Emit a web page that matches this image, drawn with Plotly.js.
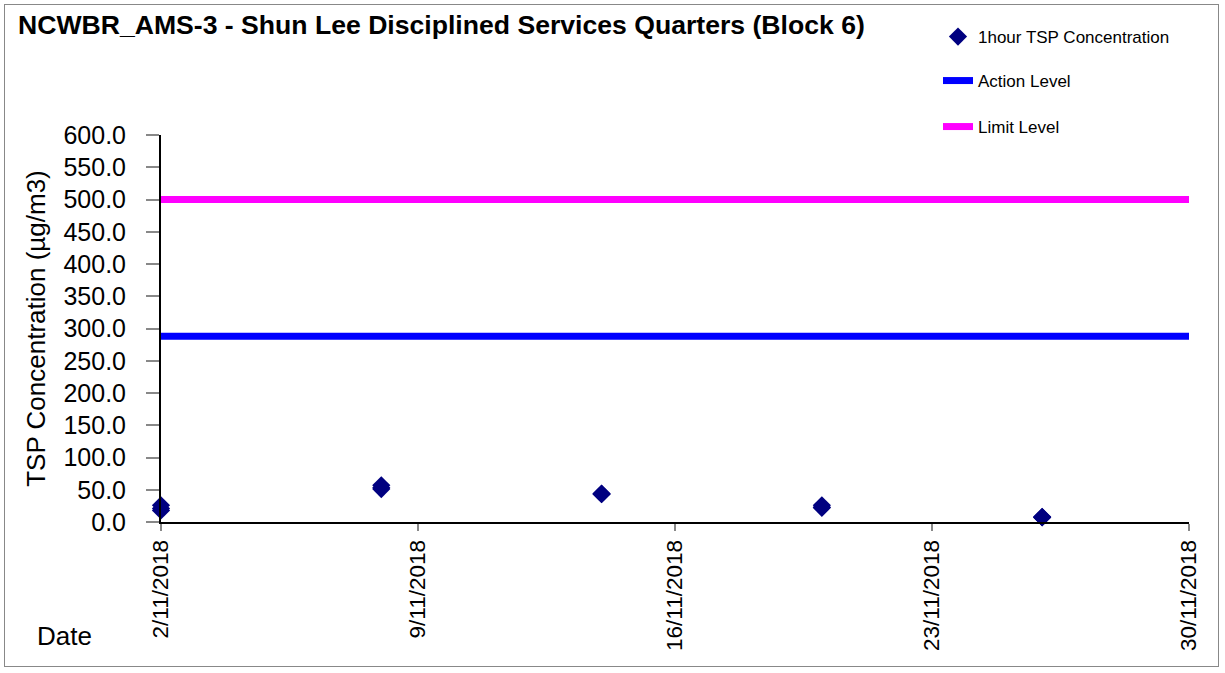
<!DOCTYPE html>
<html>
<head>
<meta charset="utf-8">
<script src="https://cdn.plot.ly/plotly-3.0.1.min.js"></script>
<style>
html,body{margin:0;padding:0;background:#fff;}
#wrap{position:absolute;left:4px;top:4px;width:1215px;height:663px;border:1px solid #888;box-sizing:border-box;}
#chart{position:absolute;left:0;top:0;width:1225px;height:673px;}
</style>
</head>
<body>
<div id="wrap"></div>
<div id="chart"></div>
<script>
// Data
const sampleDates = [
  "2018-11-02","2018-11-02","2018-11-02",
  "2018-11-08","2018-11-08","2018-11-08",
  "2018-11-14","2018-11-14","2018-11-14",
  "2018-11-20","2018-11-20","2018-11-20",
  "2018-11-26","2018-11-26","2018-11-26"
];
const tspValues = [
  26.0, 21.0, 18.0,
  57.0, 53.0, 51.0,
  44.0, 43.0, 43.5,
  26.0, 23.0, 22.0,
  8.0, 7.0, 7.5
];
const levelDates = ["2018-11-02", "2018-11-30"];
const actionLevel = [288.0, 288.0];
const limitLevel = [500.0, 500.0];
const tickDates = ["2018-11-02","2018-11-09","2018-11-16","2018-11-23","2018-11-30"];
const tickLabels = ["2/11/2018","9/11/2018","16/11/2018","23/11/2018","30/11/2018"];

const traces = [
  {
    x: sampleDates, y: tspValues, type: "scatter", mode: "markers",
    name: "1hour TSP Concentration", legend: "legend", cliponaxis: false,
    marker: {symbol: "diamond", size: 14, color: "#000080"}
  },
  {
    x: levelDates, y: actionLevel, type: "scatter", mode: "lines",
    name: "Action Level", legend: "legend2",
    line: {color: "#0000FF", width: 7}
  },
  {
    x: levelDates, y: limitLevel, type: "scatter", mode: "lines",
    name: "Limit Level", legend: "legend3",
    line: {color: "#FF00FF", width: 7}
  }
];

const W = 1225, H = 673, L = 161, R = 36, T = 135, B = 151;
const pw = W - L - R, ph = H - T - B;
function px(xp){ return (xp - L) / pw; }
function py(yp){ return (H - B - yp) / ph; }
function legendAt(xText, yCenter){
  return {
    x: px(xText - 40), xref: "paper", xanchor: "left",
    y: py(yCenter), yref: "paper", yanchor: "middle",
    font: {size: 17, color: "#000"}, bgcolor: "rgba(0,0,0,0)", borderwidth: 0
  };
}

const layout = {
  width: W, height: H,
  paper_bgcolor: "rgba(0,0,0,0)", plot_bgcolor: "rgba(0,0,0,0)",
  margin: {l: L, r: R, t: T, b: B, autoexpand: false},
  font: {family: "Arial, 'Liberation Sans', sans-serif", color: "#000"},
  title: {
    text: "<b>NCWBR_AMS-3 - Shun Lee Disciplined Services Quarters (Block 6)</b>",
    font: {size: 26.6, color: "#000"},
    x: 18 / W, xanchor: "left", xref: "container",
    y: 1 - 25 / H, yanchor: "middle", yref: "container"
  },
  xaxis: {
    type: "date",
    range: ["2018-11-02", "2018-11-30"],
    tickmode: "array", tickvals: tickDates, ticktext: tickLabels,
    tickangle: -90, tickfont: {size: 22.5},
    showgrid: false, zeroline: false,
    showline: true, linecolor: "#000", linewidth: 2,
    ticks: "outside", ticklen: 7, tickcolor: "#888", tickwidth: 2,
    ticklabelstandoff: 0
  },
  yaxis: {
    range: [0, 600], dtick: 50, tick0: 0, tickformat: ".1f",
    tickfont: {size: 25},
    title: {text: "TSP Concentration (µg/m3)", font: {size: 26}, standoff: 10},
    showgrid: false, zeroline: false,
    showline: true, linecolor: "#000", linewidth: 2,
    ticks: "outside", ticklen: 13, tickcolor: "#888", tickwidth: 2,
    ticklabelstandoff: 15
  },
  showlegend: true,
  legend: legendAt(978, 37),
  legend2: legendAt(978, 81),
  legend3: legendAt(978, 127),
  annotations: [
    {text: "Date", xref: "paper", yref: "paper", x: px(35), y: py(636),
     xanchor: "left", yanchor: "middle", showarrow: false, font: {size: 26}}
  ]
};

Plotly.newPlot("chart", traces, layout, {displayModeBar: false, staticPlot: true});
</script>
</body>
</html>
